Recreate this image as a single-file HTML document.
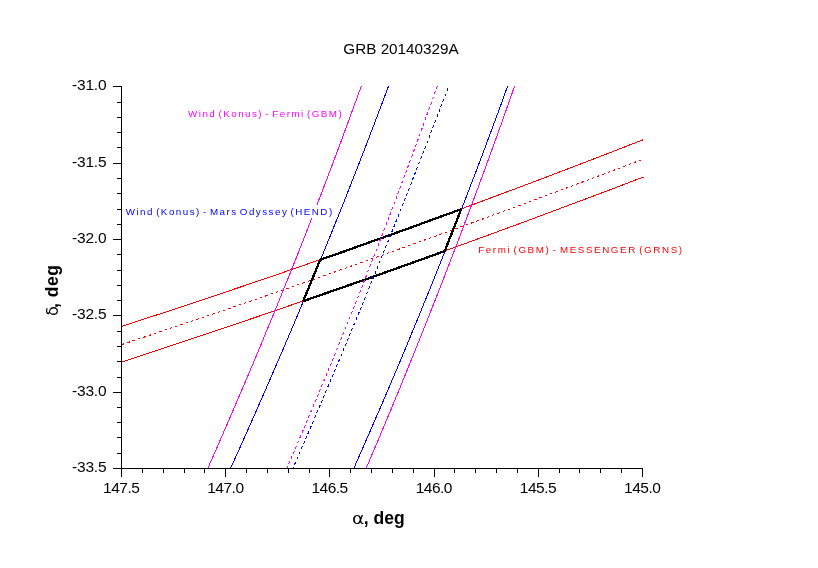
<!DOCTYPE html>
<html><head><meta charset="utf-8"><title>GRB 20140329A</title>
<style>
html,body{margin:0;padding:0;background:#fff;}
body{width:818px;height:568px;overflow:hidden;}
svg{display:block;font-family:"Liberation Sans",Arial,sans-serif;}
.tk{font-size:15.5px;letter-spacing:-0.5px;fill:#000;}
.tt{font-size:15.25px;letter-spacing:0;}
.lb{font-size:9.8px;letter-spacing:1.48px;word-spacing:-2px;}
.ax{font-size:17.5px;font-weight:bold;fill:#000;}
.ax.gr{font-weight:normal;font-family:"DejaVu Sans","Liberation Sans",sans-serif;font-size:16px;}
polyline,polygon{fill:none;stroke-width:1;}
</style></head><body>
<svg width="818" height="568" viewBox="0 0 818 568">
<rect width="818" height="568" fill="#fff"/>
<g shape-rendering="crispEdges">
<polyline points="122.0,326.2 135.4,321.9 148.7,317.5 162.1,313.2 175.5,308.8 188.9,304.3 202.2,299.9 215.6,295.4 229.0,290.9 242.3,286.4 255.7,281.9 269.1,277.3 282.5,272.7 295.8,268.1 309.2,263.4 322.6,258.7 335.9,254.1 349.3,249.3 362.7,244.6 376.1,239.8 389.4,235.0 402.8,230.2 416.2,225.4 429.6,220.5 442.9,215.6 456.3,210.7 469.7,205.8 483.0,200.8 496.4,195.8 509.8,190.8 523.2,185.8 536.5,180.8 549.9,175.7 563.3,170.6 576.6,165.5 590.0,160.4 603.4,155.2 616.8,150.0 630.1,144.8 643.5,139.6" stroke="#f00"/>
<polyline points="122.0,361.9 135.4,357.6 148.7,353.1 162.1,348.7 175.5,344.3 188.9,339.8 202.2,335.4 215.6,330.9 229.0,326.3 242.3,321.8 255.7,317.3 269.1,312.7 282.5,308.1 295.8,303.5 309.2,298.9 322.6,294.2 335.9,289.6 349.3,284.9 362.7,280.2 376.1,275.4 389.4,270.7 402.8,265.9 416.2,261.2 429.6,256.4 442.9,251.6 456.3,246.7 469.7,241.9 483.0,237.0 496.4,232.1 509.8,227.2 523.2,222.3 536.5,217.3 549.9,212.3 563.3,207.3 576.6,202.3 590.0,197.3 603.4,192.3 616.8,187.2 630.1,182.1 643.5,177.0" stroke="#f00"/>
<polyline points="361.3,86.0 357.8,95.8 354.2,105.6 350.6,115.4 347.0,125.2 343.4,135.0 339.8,144.8 336.1,154.6 332.4,164.4 328.7,174.2 325.0,183.9 321.3,193.7 317.5,203.5 313.7,213.3 309.9,223.1 306.1,232.9 302.2,242.7 298.4,252.5 294.5,262.3 290.6,272.1 286.6,281.9 282.7,291.7 278.7,301.5 274.7,311.3 270.7,321.1 266.6,330.9 262.6,340.7 258.5,350.5 254.4,360.3 250.3,370.1 246.2,379.8 242.0,389.6 237.8,399.4 233.6,409.2 229.4,419.0 225.1,428.8 220.9,438.6 216.6,448.4 212.3,458.2 208.0,468.0" stroke="#f0f"/>
<polyline points="514.6,86.0 511.2,95.8 507.7,105.6 504.3,115.4 500.8,125.2 497.3,135.0 493.7,144.8 490.2,154.6 486.6,164.4 483.0,174.2 479.4,183.9 475.8,193.7 472.1,203.5 468.5,213.3 464.8,223.1 461.1,232.9 457.4,242.7 453.6,252.5 449.9,262.3 446.1,272.1 442.3,281.9 438.5,291.7 434.6,301.5 430.7,311.3 426.9,321.1 423.0,330.9 419.0,340.7 415.1,350.5 411.1,360.3 407.2,370.1 403.2,379.8 399.2,389.6 395.1,399.4 391.1,409.2 387.0,419.0 382.9,428.8 378.8,438.6 374.6,448.4 370.5,458.2 366.3,468.0" stroke="#f0f"/>
<polyline points="388.6,86.0 384.9,95.8 381.2,105.6 377.5,115.4 373.8,125.2 370.0,135.0 366.3,144.8 362.5,154.6 358.7,164.4 354.9,174.2 351.0,183.9 347.2,193.7 343.3,203.5 339.4,213.3 335.4,223.1 331.5,232.9 327.5,242.7 323.5,252.5 319.5,262.3 315.5,272.1 311.5,281.9 307.4,291.7 303.3,301.5 299.2,311.3 295.1,321.1 290.9,330.9 286.7,340.7 282.6,350.5 278.3,360.3 274.1,370.1 269.9,379.8 265.6,389.6 261.3,399.4 257.0,409.2 252.7,419.0 248.3,428.8 244.0,438.6 239.6,448.4 235.2,458.2 230.7,468.0" stroke="#00f"/>
<polyline points="507.7,86.0 504.1,95.8 500.6,105.6 497.0,115.4 493.3,125.2 489.7,135.0 486.1,144.8 482.4,154.6 478.7,164.4 475.0,174.2 471.2,183.9 467.5,193.7 463.7,203.5 459.9,213.3 456.1,223.1 452.2,232.9 448.4,242.7 444.5,252.5 440.6,262.3 436.7,272.1 432.7,281.9 428.8,291.7 424.8,301.5 420.8,311.3 416.8,321.1 412.7,330.9 408.7,340.7 404.6,350.5 400.5,360.3 396.4,370.1 392.2,379.8 388.1,389.6 383.9,399.4 379.7,409.2 375.4,419.0 371.2,428.8 366.9,438.6 362.6,448.4 358.3,458.2 354.0,468.0" stroke="#00f"/>
</g>
<polygon transform="translate(-0.5,0.4)" points="320.7,259.4 328.1,256.8 335.6,254.2 343.0,251.6 350.4,249.0 357.8,246.3 365.2,243.7 372.7,241.0 380.1,238.4 387.5,235.7 394.9,233.1 402.3,230.4 409.8,227.7 417.2,225.0 424.6,222.3 432.0,219.6 439.4,216.9 446.9,214.2 454.3,211.5 461.7,208.7 461.7,208.7 459.9,213.4 458.1,218.1 456.2,222.7 454.4,227.4 452.6,232.1 450.7,236.7 448.9,241.4 447.1,246.1 445.2,250.7 445.2,250.7 437.8,253.4 430.3,256.1 422.9,258.8 415.4,261.4 407.9,264.1 400.5,266.8 393.0,269.4 385.6,272.1 378.1,274.7 370.7,277.4 363.2,280.0 355.8,282.6 348.3,285.2 340.9,287.8 333.4,290.4 325.9,293.0 318.5,295.6 311.0,298.2 303.6,300.8 303.6,300.8 305.5,296.2 307.4,291.6 309.3,287.0 311.2,282.4 313.1,277.8 315.0,273.2 316.9,268.6 318.8,264.0 320.7,259.4" stroke="#000" style="stroke-width:2.3" stroke-linejoin="bevel" shape-rendering="crispEdges"/>
<g shape-rendering="crispEdges">
<polyline points="122.0,344.5 135.4,340.0 148.7,335.6 162.1,331.1 175.5,326.6 188.9,322.1 202.2,317.6 215.6,313.1 229.0,308.5 242.3,304.0 255.7,299.4 269.1,294.8 282.5,290.2 295.8,285.5 309.2,280.9 322.6,276.2 335.9,271.5 349.3,266.8 362.7,262.1 376.1,257.3 389.4,252.6 402.8,247.8 416.2,243.0 429.6,238.2 442.9,233.4 456.3,228.5 469.7,223.7 483.0,218.8 496.4,213.9 509.8,209.0 523.2,204.1 536.5,199.1 549.9,194.2 563.3,189.2 576.6,184.2 590.0,179.2 603.4,174.2 616.8,169.1 630.1,164.1 643.5,159.0" stroke="#f00" stroke-dasharray="2.5 3.1"/>
<polyline points="437.3,86.0 433.8,95.8 430.3,105.6 426.7,115.4 423.2,125.2 419.6,135.0 416.1,144.8 412.5,154.6 408.8,164.4 405.2,174.2 401.5,183.9 397.9,193.7 394.2,203.5 390.5,213.3 386.7,223.1 383.0,232.9 379.2,242.7 375.4,252.5 371.6,262.3 367.7,272.1 363.9,281.9 360.0,291.7 356.1,301.5 352.2,311.3 348.3,321.1 344.3,330.9 340.4,340.7 336.4,350.5 332.4,360.3 328.3,370.1 324.3,379.8 320.2,389.6 316.1,399.4 312.0,409.2 307.9,419.0 303.7,428.8 299.6,438.6 295.4,448.4 291.2,458.2 287.0,468.0" stroke="#f0f" stroke-dasharray="3 2.6"/>
<polyline points="447.9,88.5 444.2,98.2 440.4,108.0 436.7,117.7 432.9,127.4 429.2,137.2 425.4,146.9 421.6,156.6 417.8,166.3 414.0,176.1 410.2,185.8 406.3,195.5 402.5,205.3 398.6,215.0 394.7,224.7 390.8,234.5 386.9,244.2 383.0,253.9 379.0,263.7 375.1,273.4 371.1,283.1 367.1,292.8 363.1,302.6 359.1,312.3 355.1,322.0 351.0,331.8 347.0,341.5 342.9,351.2 338.8,361.0 334.7,370.7 330.6,380.4 326.5,390.2 322.4,399.9 318.2,409.6 314.1,419.3 309.9,429.1 305.7,438.8 301.5,448.5 297.3,458.3 293.0,468.0" stroke="#00f" stroke-dasharray="3 2.6"/>
</g>
<g fill="#000" shape-rendering="crispEdges">
<rect x="121" y="468" width="1" height="9"/><rect x="142" y="468" width="1" height="5"/><rect x="163" y="468" width="1" height="5"/><rect x="184" y="468" width="1" height="5"/><rect x="204" y="468" width="1" height="5"/><rect x="225" y="468" width="1" height="9"/><rect x="246" y="468" width="1" height="5"/><rect x="267" y="468" width="1" height="5"/><rect x="288" y="468" width="1" height="5"/><rect x="309" y="468" width="1" height="5"/><rect x="329" y="468" width="1" height="9"/><rect x="350" y="468" width="1" height="5"/><rect x="371" y="468" width="1" height="5"/><rect x="392" y="468" width="1" height="5"/><rect x="413" y="468" width="1" height="5"/><rect x="434" y="468" width="1" height="9"/><rect x="454" y="468" width="1" height="5"/><rect x="475" y="468" width="1" height="5"/><rect x="496" y="468" width="1" height="5"/><rect x="517" y="468" width="1" height="5"/><rect x="538" y="468" width="1" height="9"/><rect x="559" y="468" width="1" height="5"/><rect x="579" y="468" width="1" height="5"/><rect x="600" y="468" width="1" height="5"/><rect x="621" y="468" width="1" height="5"/><rect x="642" y="468" width="1" height="9"/><rect x="113" y="86" width="9" height="1"/><rect x="117" y="102" width="5" height="1"/><rect x="117" y="117" width="5" height="1"/><rect x="117" y="132" width="5" height="1"/><rect x="117" y="147" width="5" height="1"/><rect x="113" y="163" width="9" height="1"/><rect x="117" y="178" width="5" height="1"/><rect x="117" y="193" width="5" height="1"/><rect x="117" y="209" width="5" height="1"/><rect x="117" y="224" width="5" height="1"/><rect x="113" y="239" width="9" height="1"/><rect x="117" y="254" width="5" height="1"/><rect x="117" y="270" width="5" height="1"/><rect x="117" y="285" width="5" height="1"/><rect x="117" y="300" width="5" height="1"/><rect x="113" y="315" width="9" height="1"/><rect x="117" y="331" width="5" height="1"/><rect x="117" y="346" width="5" height="1"/><rect x="117" y="361" width="5" height="1"/><rect x="117" y="377" width="5" height="1"/><rect x="113" y="392" width="9" height="1"/><rect x="117" y="407" width="5" height="1"/><rect x="117" y="422" width="5" height="1"/><rect x="117" y="437" width="5" height="1"/><rect x="117" y="453" width="5" height="1"/><rect x="113" y="468" width="9" height="1"/><rect x="121" y="86" width="1" height="383"/><rect x="121" y="468" width="522" height="1"/>
</g>
<g class="tk"><text x="121.2" y="493" text-anchor="middle">147.5</text><text x="225.39999999999998" y="493" text-anchor="middle">147.0</text><text x="329.59999999999997" y="493" text-anchor="middle">146.5</text><text x="433.8" y="493" text-anchor="middle">146.0</text><text x="538.0" y="493" text-anchor="middle">145.5</text><text x="642.2" y="493" text-anchor="middle">145.0</text><text x="106.4" y="90" text-anchor="end" style="letter-spacing:-0.2px">-31.0</text><text x="106.4" y="167" text-anchor="end" style="letter-spacing:-0.2px">-31.5</text><text x="106.4" y="243" text-anchor="end" style="letter-spacing:-0.2px">-32.0</text><text x="106.4" y="319" text-anchor="end" style="letter-spacing:-0.2px">-32.5</text><text x="106.4" y="396" text-anchor="end" style="letter-spacing:-0.2px">-33.0</text><text x="106.4" y="472" text-anchor="end" style="letter-spacing:-0.2px">-33.5</text>
<text class="tt" x="401" y="54" text-anchor="middle">GRB 20140329A</text>
</g>
<text class="lb" x="188" y="117" fill="#f0f">Wind (Konus) - Fermi (GBM)</text>
<rect x="124" y="205" width="210" height="13" fill="#fff"/>
<text class="lb" x="125.7" y="215" fill="#00f">Wind (Konus) - Mars Odyssey (HEND)</text>
<text class="lb" x="478.2" y="253" style="letter-spacing:1.6px" fill="#f00">Fermi (GBM) - MESSENGER (GRNS)</text>
<text class="ax gr" transform="translate(352,524) scale(1.17,1)">α</text>
<text class="ax" x="363.8" y="524">, deg</text>
<g transform="translate(58,316) rotate(-90)">
<text class="ax gr" x="0" y="0">δ</text>
<text class="ax" x="8.1" y="0">,</text>
<text class="ax" x="18.8" y="0" style="letter-spacing:0.5px">deg</text>
</g>
</svg>
</body></html>
